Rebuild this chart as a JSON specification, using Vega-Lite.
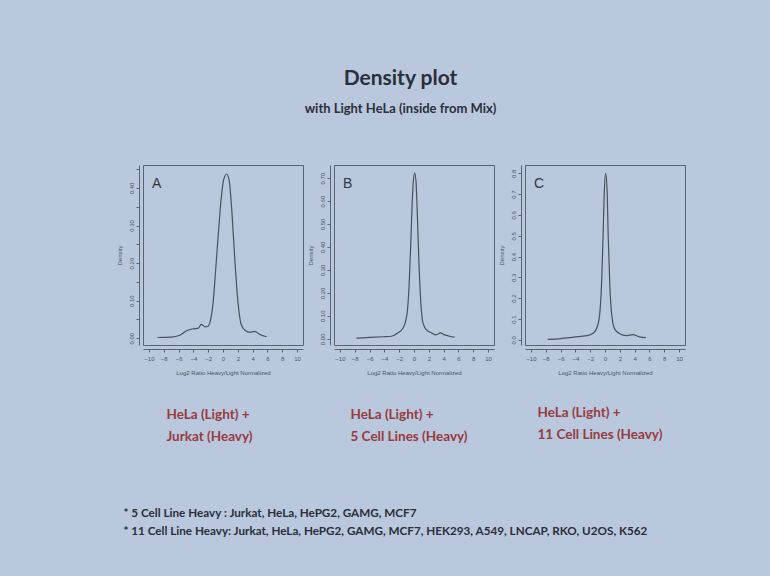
{
  "$schema": "https://vega.github.io/schema/vega-lite/v6.json",
  "background": "#b9c8dd",
  "padding": {"left": 115, "top": 67, "right": 87, "bottom": 39},
  "autosize": {"type": "pad"},
  "datasets": {
    "A": [
      {"x": -8.83, "y": 0.002}, {"x": -6.99, "y": 0.003}, {"x": -5.84, "y": 0.008}, {"x": -4.92, "y": 0.02},
      {"x": -4.0, "y": 0.025}, {"x": -3.31, "y": 0.027}, {"x": -2.94, "y": 0.037}, {"x": -2.39, "y": 0.030},
      {"x": -2.02, "y": 0.032}, {"x": -1.70, "y": 0.047}, {"x": -1.33, "y": 0.096}, {"x": -1.01, "y": 0.177},
      {"x": -0.64, "y": 0.275}, {"x": -0.28, "y": 0.364}, {"x": 0.09, "y": 0.422}, {"x": 0.51, "y": 0.437},
      {"x": 0.83, "y": 0.42}, {"x": 1.2, "y": 0.337}, {"x": 1.56, "y": 0.22}, {"x": 1.98, "y": 0.105},
      {"x": 2.44, "y": 0.038}, {"x": 3.03, "y": 0.02}, {"x": 3.59, "y": 0.016}, {"x": 4.28, "y": 0.018},
      {"x": 4.97, "y": 0.01}, {"x": 5.89, "y": 0.004}
    ],
    "B": [
      {"x": -7.78, "y": 0.003}, {"x": -5.98, "y": 0.006}, {"x": -4.18, "y": 0.009}, {"x": -3.06, "y": 0.011},
      {"x": -2.16, "y": 0.026}, {"x": -1.48, "y": 0.047}, {"x": -0.94, "y": 0.11}, {"x": -0.67, "y": 0.227},
      {"x": -0.45, "y": 0.40}, {"x": -0.27, "y": 0.571}, {"x": -0.09, "y": 0.686}, {"x": 0.09, "y": 0.722},
      {"x": 0.27, "y": 0.686}, {"x": 0.45, "y": 0.542}, {"x": 0.67, "y": 0.327}, {"x": 0.9, "y": 0.169},
      {"x": 1.21, "y": 0.069}, {"x": 1.66, "y": 0.04}, {"x": 2.34, "y": 0.026}, {"x": 3.01, "y": 0.017},
      {"x": 3.55, "y": 0.026}, {"x": 4.13, "y": 0.017}, {"x": 4.81, "y": 0.011}, {"x": 5.48, "y": 0.007}
    ],
    "C": [
      {"x": -7.74, "y": 0.002}, {"x": -5.97, "y": 0.006}, {"x": -4.2, "y": 0.013}, {"x": -2.43, "y": 0.02},
      {"x": -1.55, "y": 0.033}, {"x": -1.02, "y": 0.065}, {"x": -0.66, "y": 0.145}, {"x": -0.44, "y": 0.29},
      {"x": -0.27, "y": 0.49}, {"x": -0.09, "y": 0.716}, {"x": 0.09, "y": 0.80}, {"x": 0.27, "y": 0.73},
      {"x": 0.44, "y": 0.49}, {"x": 0.66, "y": 0.255}, {"x": 0.93, "y": 0.113}, {"x": 1.33, "y": 0.05},
      {"x": 1.99, "y": 0.029}, {"x": 2.88, "y": 0.02}, {"x": 3.76, "y": 0.025}, {"x": 4.65, "y": 0.014},
      {"x": 5.53, "y": 0.01}
    ]
  },
  "title": {
    "text": "Density plot",
    "subtitle": "with Light HeLa (inside from Mix)",
    "anchor": "middle",
    "font": "Lato", "fontSize": 21, "fontWeight": "bold", "color": "#2b2f3a",
    "subtitleFont": "Lato", "subtitleFontSize": 13, "subtitleFontWeight": "bold", "subtitleColor": "#2b2f3a",
    "subtitlePadding": 14, "offset": 49
  },
  "config": {
    "view": {"stroke": "#5c6370", "strokeWidth": 1},
    "axis": {
      "labelFont": "Liberation Sans", "labelFontSize": 6, "labelColor": "#4d5360",
      "titleFont": "Liberation Sans", "titleFontSize": 6, "titleFontWeight": "normal", "titleColor": "#4d5360",
      "domainColor": "#5c6370", "tickColor": "#5c6370", "tickSize": 3, "grid": false, "offset": 4
    },
    "axisX": {"labelPadding": 3, "titlePadding": 8, "labelFlush": false},
    "axisY": {"labelAngle": 270, "labelPadding": 2, "titlePadding": 6}
  },
  "vconcat": [
    {
      "title": {
        "text": ["* 5 Cell Line Heavy  : Jurkat, HeLa, HePG2, GAMG, MCF7", "* 11 Cell Line Heavy: Jurkat, HeLa, HePG2, GAMG, MCF7, HEK293, A549, LNCAP, RKO, U2OS, K562"],
        "orient": "bottom", "anchor": "start", "frame": "bounds", "offset": 65, "dx": 8,
        "font": "Lato", "fontSize": 11.7, "fontWeight": "bold", "color": "#2b2f38", "lineHeight": 18
      },
      "spacing": 2,
      "hconcat": [
        {
          "title": {"text": ["HeLa (Light) +", "Jurkat (Heavy)"], "orient": "bottom", "anchor": "start", "frame": "bounds", "offset": 32, "dx": 51,
            "font": "Lato", "fontSize": 13.5, "fontWeight": "bold", "color": "#983a3f", "lineHeight": 22},
          "vconcat": [
            {
              "data": {"name": "A"}, "width": 160, "height": 180,
              "title": {"text": "A", "anchor": "start", "frame": "group", "offset": -26, "dx": 9, "font": "Liberation Sans", "fontSize": 14, "fontWeight": "normal", "color": "#333842"},
              "mark": {"type": "line", "color": "#4a505c", "strokeWidth": 1.2, "interpolate": "monotone"},
              "encoding": {
                "x": {"field": "x", "type": "quantitative", "scale": {"domain": [-10.8, 10.8], "nice": false},
                  "axis": {"values": [-10, -8, -6, -4, -2, 0, 2, 4, 6, 8, 10], "title": "Log2 Ratio Heavy/Light Normalized"}},
                "y": {"field": "y", "type": "quantitative", "scale": {"domain": [-0.018, 0.461], "nice": false, "zero": false},
                  "axis": {"values": [0, 0.05, 0.1, 0.15, 0.2, 0.25, 0.3, 0.35, 0.4, 0.45], "title": "Density",
                    "labelExpr": "round(datum.value * 100) % 10 == 0 ? format(datum.value, '.2f') : ''"}}
              }
            }
          ]
        },
        {
          "title": {"text": ["HeLa (Light) +", "5 Cell Lines (Heavy)"], "orient": "bottom", "anchor": "start", "frame": "bounds", "offset": 32, "dx": 44,
            "font": "Lato", "fontSize": 13.5, "fontWeight": "bold", "color": "#983a3f", "lineHeight": 22},
          "vconcat": [
            {
              "data": {"name": "B"}, "width": 160, "height": 180,
              "title": {"text": "B", "anchor": "start", "frame": "group", "offset": -26, "dx": 9, "font": "Liberation Sans", "fontSize": 14, "fontWeight": "normal", "color": "#333842"},
              "mark": {"type": "line", "color": "#4a505c", "strokeWidth": 1.2, "interpolate": "monotone"},
              "encoding": {
                "x": {"field": "x", "type": "quantitative", "scale": {"domain": [-10.8, 10.8], "nice": false},
                  "axis": {"values": [-10, -8, -6, -4, -2, 0, 2, 4, 6, 8, 10], "title": "Log2 Ratio Heavy/Light Normalized"}},
                "y": {"field": "y", "type": "quantitative", "scale": {"domain": [-0.027, 0.757], "nice": false, "zero": false},
                  "axis": {"values": [0, 0.1, 0.2, 0.3, 0.4, 0.5, 0.6, 0.7], "title": "Density", "format": ".2f"}}
              }
            }
          ]
        },
        {
          "title": {"text": ["HeLa (Light) +", "11 Cell Lines (Heavy)"], "orient": "bottom", "anchor": "start", "frame": "bounds", "offset": 30, "dx": 40,
            "font": "Lato", "fontSize": 13.5, "fontWeight": "bold", "color": "#983a3f", "lineHeight": 22},
          "vconcat": [
            {
              "data": {"name": "C"}, "width": 160, "height": 180,
              "title": {"text": "C", "anchor": "start", "frame": "group", "offset": -26, "dx": 9, "font": "Liberation Sans", "fontSize": 14, "fontWeight": "normal", "color": "#333842"},
              "mark": {"type": "line", "color": "#4a505c", "strokeWidth": 1.2, "interpolate": "monotone"},
              "encoding": {
                "x": {"field": "x", "type": "quantitative", "scale": {"domain": [-10.8, 10.8], "nice": false},
                  "axis": {"values": [-10, -8, -6, -4, -2, 0, 2, 4, 6, 8, 10], "title": "Log2 Ratio Heavy/Light Normalized"}},
                "y": {"field": "y", "type": "quantitative", "scale": {"domain": [-0.025, 0.84], "nice": false, "zero": false},
                  "axis": {"values": [0, 0.1, 0.2, 0.3, 0.4, 0.5, 0.6, 0.7, 0.8], "title": "Density", "format": ".1f"}}
              }
            }
          ]
        }
      ]
    }
  ]
}
